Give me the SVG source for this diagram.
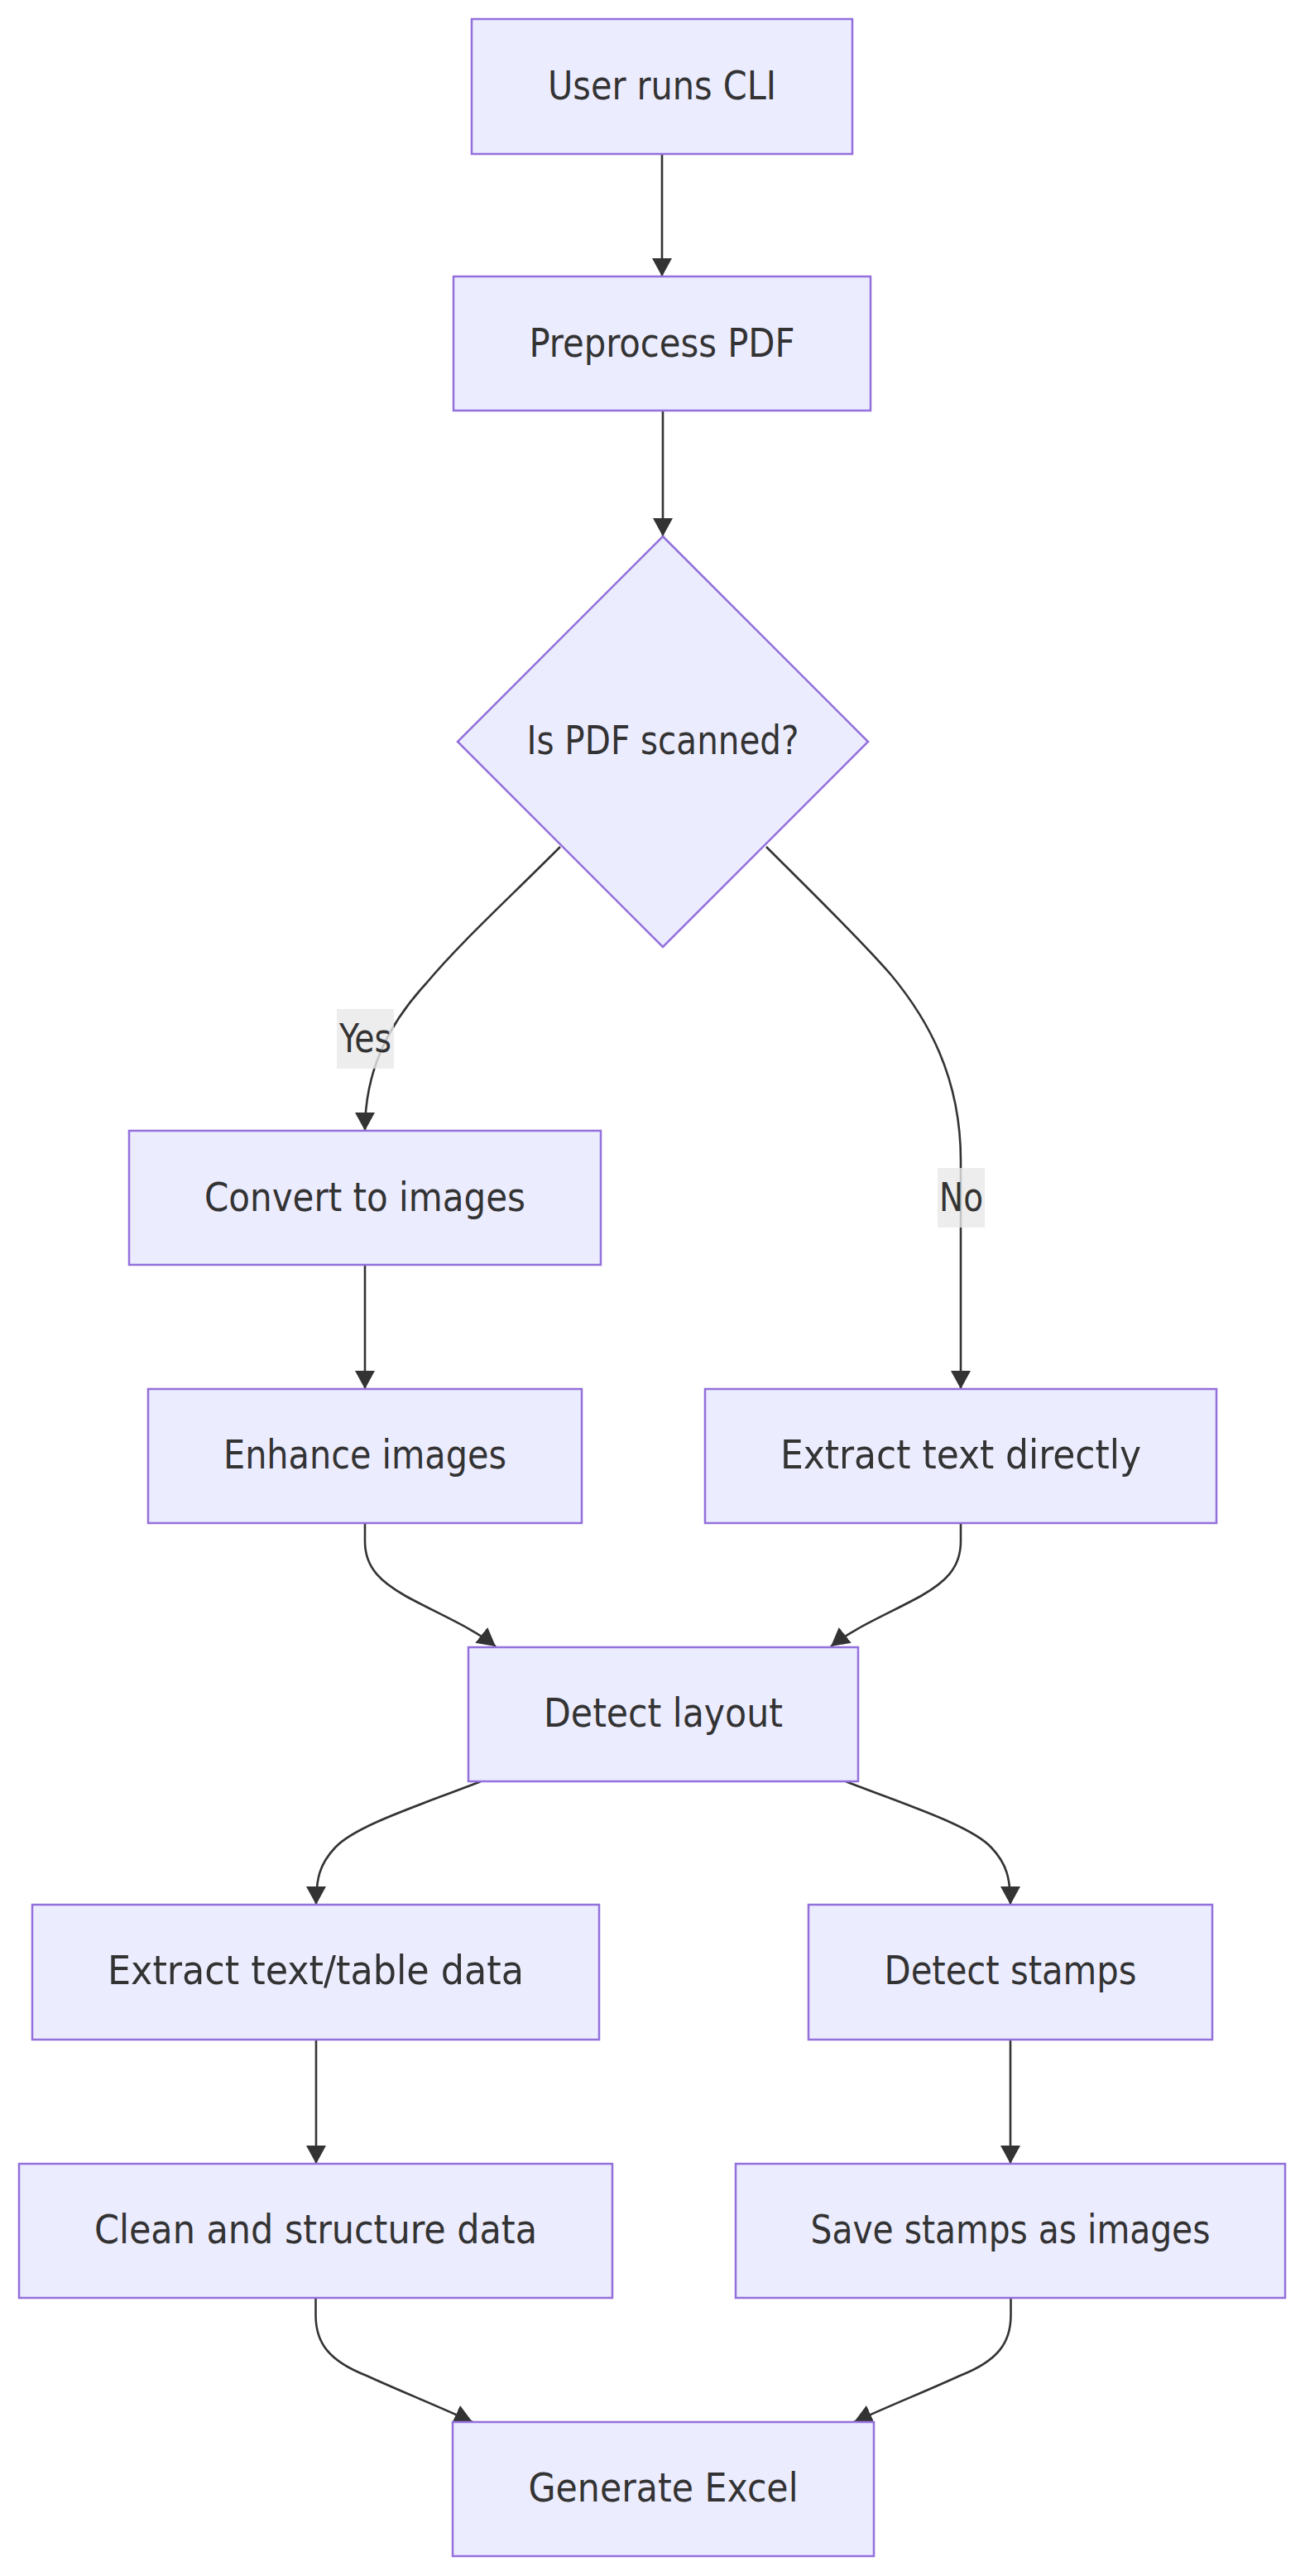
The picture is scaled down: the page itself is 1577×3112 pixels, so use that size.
<svg xmlns="http://www.w3.org/2000/svg" width="1577" height="3112" viewBox="0 0 1577 3112">
<style>
.node rect, .node polygon { fill: #ECECFF; stroke: #9370DB; stroke-width: 2.5; }
.node text, .label text { font-family: "DejaVu Sans Condensed", "Open Sans", "Liberation Sans", sans-serif; font-size: 48px; fill: #333333; text-anchor: middle; }
.edge { fill: none; stroke: #333333; stroke-width: 2.6; marker-end: url(#arrow); }
.label rect { fill: #e8e8e8; fill-opacity: 0.8; stroke: none; }
</style>
<defs>
<marker id="arrow" markerUnits="userSpaceOnUse" markerWidth="23" markerHeight="24" refX="22" refY="12" orient="auto" viewBox="0 0 23 24">
<path d="M0,0 L22,12 L0,24 z" fill="#333333"/>
</marker>
</defs>
<rect width="1577" height="3112" fill="#ffffff"/>
<g id="connectors">
<path class="edge" d="M800,186 L800,334"/>
<path class="edge" d="M801,496 L801,648"/>
<path class="edge" d="M677,1023 C610,1090 555,1140 515,1188 C472,1235 441,1290 441,1366"/>
<path class="edge" d="M926,1023 C980,1077 1040,1135 1077,1178 C1120,1230 1161,1300 1161,1402 L1161,1678"/>
<path class="edge" d="M441,1528 L441,1678"/>
<path class="edge" d="M441,1840 L441,1862 C441,1895 462,1912 490,1928 C530,1950 570,1966 599,1989"/>
<path class="edge" d="M1161,1840 L1161,1862 C1161,1895 1141,1912 1113,1928 C1073,1950 1033,1966 1004,1989"/>
<path class="edge" d="M581,2152 C510,2180 430,2205 405,2232 C386,2252 382,2270 382,2301"/>
<path class="edge" d="M1022,2152 C1093,2180 1173,2205 1198,2232 C1217,2252 1221,2270 1221,2301"/>
<path class="edge" d="M382,2464 L382,2614"/>
<path class="edge" d="M1221,2464 L1221,2614"/>
<path class="edge" d="M381.5,2776 L381.5,2797 C381.5,2830 397,2852 443,2870 C480,2887 525,2905 571,2926"/>
<path class="edge" d="M1221.5,2776 L1221.5,2797 C1221.5,2830 1206,2852 1160,2870 C1123,2887 1078,2905 1032,2926"/>
</g>
<g id="edge-labels">
<g class="label" id="label-yes"><rect x="407" y="1219" width="69" height="72"/><text x="441.5" y="1271" textLength="63" lengthAdjust="spacingAndGlyphs">Yes</text></g>
<g class="label" id="label-no"><rect x="1133" y="1411" width="57" height="72"/><text x="1161.5" y="1463" textLength="53" lengthAdjust="spacingAndGlyphs">No</text></g>
</g>
<g class="node" id="A"><rect x="570" y="23" width="460" height="163"/><text x="800" y="120" textLength="276" lengthAdjust="spacingAndGlyphs">User runs CLI</text></g>
<g class="node" id="B"><rect x="548" y="334" width="504" height="162"/><text x="800" y="431" textLength="321" lengthAdjust="spacingAndGlyphs">Preprocess PDF</text></g>
<g class="node" id="C"><polygon points="801,648 1049,896 801,1144 553,896"/><text x="801" y="911" textLength="329" lengthAdjust="spacingAndGlyphs">Is PDF scanned?</text></g>
<g class="node" id="D"><rect x="156" y="1366" width="570" height="162"/><text x="441" y="1463" textLength="388" lengthAdjust="spacingAndGlyphs">Convert to images</text></g>
<g class="node" id="E"><rect x="179" y="1678" width="524" height="162"/><text x="441" y="1774" textLength="342" lengthAdjust="spacingAndGlyphs">Enhance images</text></g>
<g class="node" id="F"><rect x="852" y="1678" width="618" height="162"/><text x="1161" y="1774" textLength="436" lengthAdjust="spacingAndGlyphs">Extract text directly</text></g>
<g class="node" id="G"><rect x="566" y="1990" width="471" height="162"/><text x="801.5" y="2086" textLength="289" lengthAdjust="spacingAndGlyphs">Detect layout</text></g>
<g class="node" id="H"><rect x="39" y="2301" width="685" height="163"/><text x="381.5" y="2397" textLength="503" lengthAdjust="spacingAndGlyphs">Extract text/table data</text></g>
<g class="node" id="I"><rect x="977" y="2301" width="488" height="163"/><text x="1221" y="2397" textLength="305" lengthAdjust="spacingAndGlyphs">Detect stamps</text></g>
<g class="node" id="J"><rect x="23" y="2614" width="717" height="162"/><text x="381.5" y="2710" textLength="535" lengthAdjust="spacingAndGlyphs">Clean and structure data</text></g>
<g class="node" id="K"><rect x="889" y="2614" width="664" height="162"/><text x="1221" y="2710" textLength="483" lengthAdjust="spacingAndGlyphs">Save stamps as images</text></g>
<g class="node" id="L"><rect x="547" y="2926" width="509" height="162"/><text x="801.5" y="3022" textLength="326" lengthAdjust="spacingAndGlyphs">Generate Excel</text></g>
</svg>
